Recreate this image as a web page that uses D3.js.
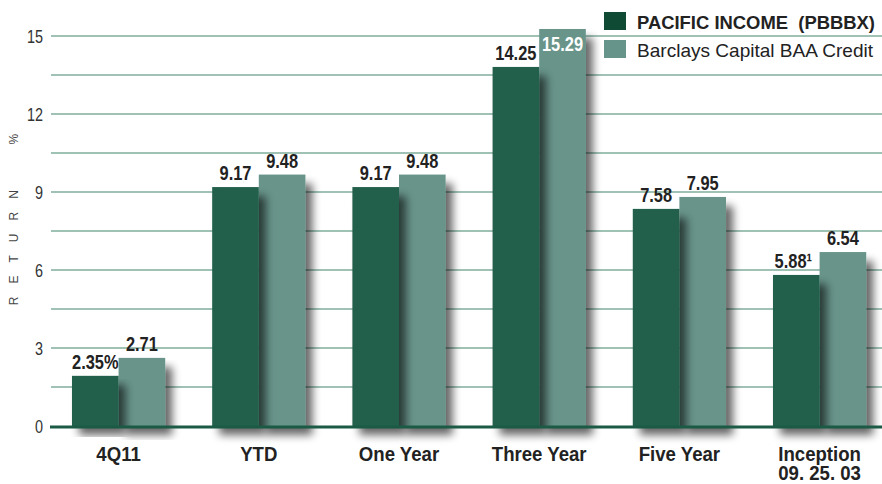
<!DOCTYPE html>
<html>
<head>
<meta charset="utf-8">
<script src="https://cdn.jsdelivr.net/npm/d3@7"></script>
<style>
  html, body { margin: 0; padding: 0; background: #fff; }
  svg { display: block; }
  text { font-family: "Liberation Sans", Arial, sans-serif; }
</style>
</head>
<body>
<svg id="chart" width="882" height="484"></svg>
<script>
// ---- data ----
const categories = ["4Q11", "YTD", "One Year", "Three Year", "Five Year", "Inception"];
const categorySubLabels = ["", "", "", "", "", "09. 25. 03"];
const seriesNames = ["PACIFIC INCOME  (PBBBX)", "Barclays Capital BAA Credit"];
// printed labels
const fundLabels = ["2.35%", "9.17", "9.17", "14.25", "7.58", "5.88¹"];
const indexLabels = ["2.71", "9.48", "9.48", "15.29", "7.95", "6.54"];
// bar heights as drawn in the picture
const fundValues = [1.93, 9.19, 9.19, 13.81, 8.35, 5.81];
const indexValues = [2.62, 9.67, 9.67, 15.27, 8.81, 6.69];
const yTicks = [0, 3, 6, 9, 12, 15];
const gridValues = [1.5, 3, 4.5, 6, 7.5, 9, 10.5, 12, 13.5, 15];

const darkColor = "#22604b";
const lightColor = "#67948a";

function condense(sel, factor) {
  sel.each(function() {
    const L = this.getComputedTextLength();
    d3.select(this).attr("textLength", L * factor).attr("lengthAdjust", "spacingAndGlyphs");
  });
}

const svg = d3.select("#chart");

const defs = svg.append("defs");
const f = defs.append("filter").attr("id", "shadow")
  .attr("x", "-30%").attr("y", "-10%").attr("width", "180%").attr("height", "130%");
f.append("feGaussianBlur").attr("in", "SourceAlpha").attr("stdDeviation", 4.5).attr("result", "b");
f.append("feOffset").attr("in", "b").attr("dx", 7).attr("dy", 9).attr("result", "o");
f.append("feComponentTransfer").attr("in", "o").attr("result", "t")
  .append("feFuncA").attr("type", "linear").attr("slope", 0.6);
const m = f.append("feMerge");
m.append("feMergeNode").attr("in", "t");
m.append("feMergeNode").attr("in", "SourceGraphic");

const y = d3.scaleLinear().domain([0, 15]).range([426, 36]);
const x = d3.scaleBand().domain(categories).range([48.5, 889.7])
  .paddingInner(0.335).paddingOuter(0.1675);
const bw = x.bandwidth() / 2;

// grid lines
svg.append("g").selectAll("line").data(gridValues).join("line")
  .attr("x1", 51).attr("x2", 882)
  .attr("y1", d => y(d)).attr("y2", d => y(d))
  .attr("stroke", "#7fae9c").attr("stroke-width", 1.5);

// y tick labels via axis
const yAxis = svg.append("g").attr("transform", "translate(43,0)")
  .call(d3.axisLeft(y).tickValues(yTicks).tickSize(0).tickPadding(0).tickFormat(d3.format("d")));
yAxis.select(".domain").remove();
yAxis.selectAll("text").attr("font-size", 18).attr("fill", "#333")
  .attr("dy", "0.36em")
  .style("font-family", "\"Liberation Sans\", Arial, sans-serif");
condense(yAxis.selectAll("text"), 0.8);

// y title
svg.append("text")
  .attr("transform", "translate(18,213) rotate(-90)")
  .attr("text-anchor", "middle")
  .attr("font-size", 12).attr("fill", "#444")
  .attr("letter-spacing", 13)
  .style("white-space", "pre")
  .text("RETURN  %");

// bars: light first, then dark over it
const groups = svg.append("g").selectAll("g").data(categories).join("g");
groups.append("rect")
  .attr("x", d => x(d) + bw)
  .attr("y", (d, i) => y(indexValues[i]))
  .attr("width", bw)
  .attr("height", (d, i) => y(0) - y(indexValues[i]))
  .attr("fill", lightColor)
  .attr("filter", "url(#shadow)");
groups.append("rect")
  .attr("x", d => x(d))
  .attr("y", (d, i) => y(fundValues[i]))
  .attr("width", bw)
  .attr("height", (d, i) => y(0) - y(fundValues[i]))
  .attr("fill", darkColor)
  .attr("filter", "url(#shadow)");

// baseline
svg.append("line").attr("x1", 50).attr("x2", 882)
  .attr("y1", y(0) + 1).attr("y2", y(0) + 1)
  .attr("stroke", "#1b5a44").attr("stroke-width", 3);

// value labels
const labelFont = 20;
const fundText = groups.append("text")
  .attr("x", d => x(d) + bw / 2 - (d === "Inception" ? 3 : 0))
  .attr("y", (d, i) => y(fundValues[i]) - 7)
  .attr("text-anchor", "middle")
  .attr("font-size", labelFont).attr("font-weight", "bold").attr("fill", "#222")
  .text((d, i) => fundLabels[i]);
condense(fundText, 0.82);
const indexText = groups.append("text")
  .attr("x", d => x(d) + bw * 1.5)
  .attr("y", (d, i) => indexValues[i] > 14.5 ? y(indexValues[i]) + 22 : y(indexValues[i]) - 7)
  .attr("text-anchor", "middle")
  .attr("font-size", labelFont).attr("font-weight", "bold")
  .attr("fill", (d, i) => indexValues[i] > 14.5 ? "#fff" : "#222")
  .text((d, i) => indexLabels[i]);
condense(indexText, 0.82);

// category labels (one text element, optional second line as tspan)
groups.append("text")
  .attr("text-anchor", "middle")
  .attr("font-size", 20).attr("font-weight", "bold").attr("fill", "#222")
  .each(function(d, i) {
    const t = d3.select(this);
    const cx = x(d) + x.bandwidth() / 2;
    const a = t.append("tspan").attr("x", cx).attr("y", 461).text(d);
    condense(a, 0.93);
    if (categorySubLabels[i]) {
      const b = t.append("tspan").attr("x", cx).attr("y", 480).text(categorySubLabels[i]);
      condense(b, 0.93);
    }
  });

// legend
const legend = svg.append("g");
const legendColors = ["#0f4a35", lightColor];
seriesNames.forEach((name, i) => {
  legend.append("rect").attr("x", 604).attr("y", 12 + i * 28)
    .attr("width", 22).attr("height", 18).attr("fill", legendColors[i]);
  legend.append("text").attr("x", 637).attr("y", 29 + i * 28)
    .attr("font-size", 19).attr("font-weight", i === 0 ? "bold" : "normal")
    .attr("fill", "#222")
    .style("white-space", "pre")
    .attr("textLength", i === 0 ? 238 : 236).attr("lengthAdjust", "spacingAndGlyphs")
    .text(name);
});
</script>
</body>
</html>
